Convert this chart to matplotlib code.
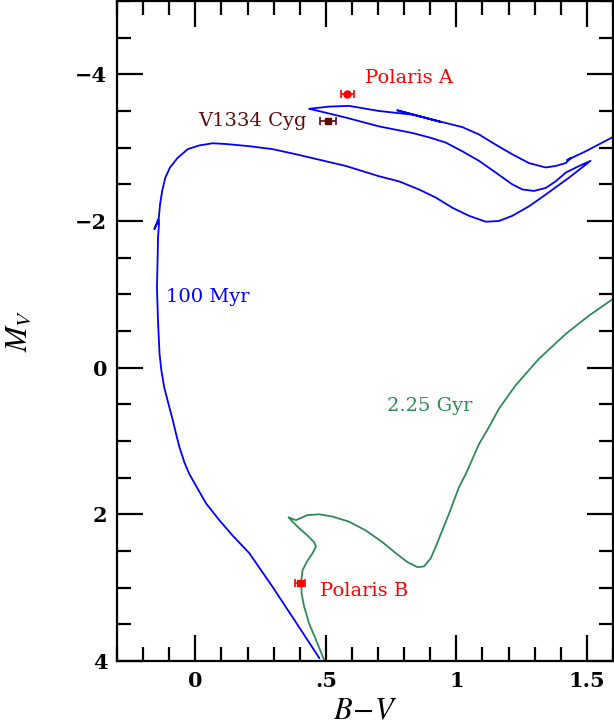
import numpy as np
import matplotlib
matplotlib.use('Agg')
import matplotlib.pyplot as plt
from matplotlib.ticker import MultipleLocator

# 100 Myr isochrone (B-V, M_V), traced from the bottom of the main sequence upward
iso100_bv = [0.475, 0.372, 0.296, 0.207, 0.143, 0.092, 0.041, 0.009, -0.023, -0.042,
             -0.061, -0.074, -0.086, -0.095, -0.106, -0.119, -0.130, -0.137, -0.140,
             -0.143, -0.145, -0.147, -0.144, -0.143, -0.139, -0.140, -0.147, -0.157,
             -0.140, -0.135, -0.127, -0.115, -0.097, -0.068, -0.029, 0.015, 0.066,
             0.117, 0.207, 0.296, 0.398, 0.577, 0.704, 0.781, 0.857, 0.921, 0.985,
             1.049, 1.113, 1.163, 1.214, 1.278, 1.342, 1.431, 1.514,
             1.470, 1.419, 1.380, 1.342, 1.297, 1.253, 1.214, 1.151, 1.087, 1.023,
             0.959, 0.896, 0.832, 0.704, 0.577, 0.449, 0.436,
             0.513, 0.589, 0.704, 0.832, 0.941, 0.773, 0.934, 1.023, 1.087, 1.151,
             1.214, 1.278, 1.342, 1.380, 1.419, 1.439, 1.424, 1.495, 1.597, 1.623]
iso100_mv = [3.96, 3.40, 2.99, 2.53, 2.29, 2.08, 1.85, 1.65, 1.45, 1.29,
             1.08, 0.90, 0.72, 0.60, 0.45, 0.27, 0.04, -0.19, -0.41,
             -0.64, -0.87, -1.09, -1.55, -1.77, -1.96, -2.02, -1.96, -1.89,
             -2.04, -2.23, -2.41, -2.59, -2.73, -2.86, -2.98, -3.03, -3.06,
             -3.05, -3.02, -2.98, -2.90, -2.75, -2.61, -2.54, -2.43, -2.32, -2.18,
             -2.07, -1.99, -2.00, -2.07, -2.20, -2.36, -2.59, -2.82,
             -2.75, -2.66, -2.54, -2.45, -2.41, -2.43, -2.50, -2.66, -2.82, -2.95,
             -3.07, -3.14, -3.20, -3.29, -3.41, -3.52, -3.53,
             -3.56, -3.57, -3.50, -3.45, -3.35, -3.51, -3.36, -3.28, -3.18, -3.04,
             -2.91, -2.79, -2.73, -2.75, -2.79, -2.86, -2.83, -2.95, -3.14, -3.18]

# 2.25 Gyr isochrone
iso225_bv = [0.494, 0.462, 0.436, 0.417, 0.407, 0.406, 0.411, 0.430, 0.449, 0.462,
             0.455, 0.430, 0.398, 0.372, 0.357, 0.385, 0.430, 0.475, 0.525, 0.589,
             0.653, 0.717, 0.768, 0.812, 0.851, 0.876, 0.902, 0.921, 0.946, 0.972,
             1.010, 1.036, 1.087, 1.125, 1.163, 1.227, 1.316, 1.419, 1.508, 1.597,
             1.620]
iso225_mv = [3.99, 3.71, 3.49, 3.26, 3.08, 2.90, 2.76, 2.63, 2.53, 2.44,
             2.38, 2.29, 2.19, 2.10, 2.04, 2.08, 2.01, 2.00, 2.03, 2.10,
             2.22, 2.38, 2.53, 2.65, 2.72, 2.71, 2.60, 2.44, 2.22, 1.99,
             1.63, 1.45, 1.04, 0.81, 0.56, 0.24, -0.12, -0.46, -0.71, -0.93,
             -0.98]

# observed stars
star_names = ['Polaris A', 'V1334 Cyg', 'Polaris B']
star_bv = [0.582, 0.509, 0.402]
star_mv = [-3.73, -3.37, 2.93]
star_bv_err = [0.025, 0.03, 0.02]
star_colors = ['#ff0000', '#5c0a0a', '#ff0000']
star_markers = ['o', 's', 's']

plt.rcParams['mathtext.fontset'] = 'stix'

fig = plt.figure(figsize=(6.14, 7.27), dpi=100)
ax = fig.add_axes([117 / 614, 1 - 661 / 727, 496 / 614, 660 / 727])

ax.plot(iso100_bv, iso100_mv, color='#0000ff', lw=1.3)
ax.plot(iso225_bv, iso225_mv, color='#2e8b57', lw=1.3)

for i in range(len(star_names)):
    ax.errorbar(star_bv[i], star_mv[i], xerr=star_bv_err[i], fmt=star_markers[i],
                color=star_colors[i], ms=5, capsize=3, elinewidth=1.2, capthick=1.2)

tfont = dict(family='DejaVu Serif', fontsize=14)
ax.text(0.65, -3.95, 'Polaris A', color='#ff0000', ha='left', va='center', **tfont)
ax.text(0.425, -3.37, 'V1334 Cyg', color='#5c0a0a', ha='right', va='center', **tfont)
ax.text(0.478, 3.05, 'Polaris B', color='#ff0000', ha='left', va='center', **tfont)
ax.text(-0.111, -0.97, '100 Myr', color='#0000ff', ha='left', va='center', **tfont)
ax.text(0.735, 0.52, '2.25 Gyr', color='#2e8b57', ha='left', va='center', **tfont)

ax.set_xlim(-0.3, 1.6)
ax.set_ylim(4, -5)
ax.xaxis.set_minor_locator(MultipleLocator(0.1))
ax.yaxis.set_minor_locator(MultipleLocator(0.5))
ax.set_xticks([0, 0.5, 1, 1.5])
ax.set_xticklabels(['0', '.5', '1', '1.5'])
ax.set_yticks([-4, -2, 0, 2, 4])
ax.set_yticklabels(['\u22124', '\u22122', '0', '2', '4'])

ax.tick_params(which='both', direction='in', top=True, right=True, width=1.6)
ax.tick_params(which='major', length=19, pad=7)
ax.tick_params(which='minor', length=10)
for lab in ax.get_xticklabels() + ax.get_yticklabels():
    lab.set_family('DejaVu Serif')
    lab.set_fontweight('bold')
    lab.set_fontsize(15)
for sp in ax.spines.values():
    sp.set_linewidth(1.6)

ax.set_xlabel(r'$B\!-\!V$', fontsize=22, labelpad=4)
ax.set_ylabel(r'$M_V$', fontsize=22, labelpad=30)

fig.savefig('out.png', dpi=100)
